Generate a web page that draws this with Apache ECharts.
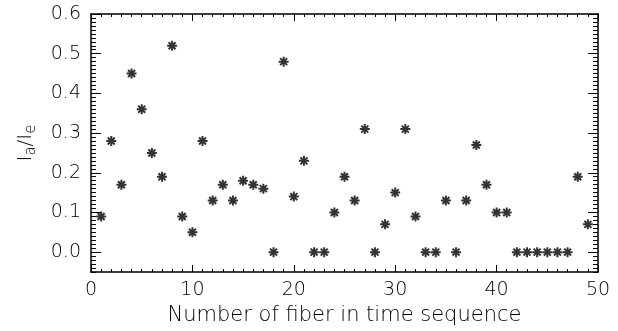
<!DOCTYPE html>
<html>
<head>
<meta charset="utf-8">
<script src="https://cdn.jsdelivr.net/npm/echarts@6/dist/echarts.min.js"></script>
<style>html,body{margin:0;padding:0;background:#fff}#c{width:618px;height:331px}</style>
</head>
<body>
<div id="c"></div>
<script>
var fiberNumbers = [1,2,3,4,5,6,7,8,9,10,11,12,13,14,15,16,17,18,19,20,21,22,23,24,25,26,27,28,29,30,31,32,33,34,35,36,37,38,39,40,41,42,43,44,45,46,47,48,49];
var ratioValues = [0.09,0.28,0.17,0.45,0.36,0.25,0.19,0.52,0.09,0.05,0.28,0.13,0.17,0.13,0.18,0.17,0.16,0.00,0.48,0.14,0.23,0.00,0.00,0.10,0.19,0.13,0.31,0.00,0.07,0.15,0.31,0.09,0.00,0.00,0.13,0.00,0.13,0.27,0.17,0.10,0.10,0.00,0.00,0.00,0.00,0.00,0.00,0.19,0.07];
var yTickLabels = [0.0,0.1,0.2,0.3,0.4,0.5,0.6];
var xTickLabels = [0,10,20,30,40,50];

var yMinorTicks = [];
for (var k = -5; k <= 60; k++) yMinorTicks.push(k / 100);

var FONT = 'DejaVu Sans';
var FW = 200;
var points = fiberNumbers.map(function (n, i) { return [n, ratioValues[i]]; });

var asterisk = 'path://M5,0L5,10M0,5L10,5M1.5,1.5L8.5,8.5M8.5,1.5L1.5,8.5';

function yAxisMajor(pos) {
  return {
    type: 'value', position: pos, min: -0.05, max: 0.6,
    axisLine: {show: true, onZero: false, lineStyle: {color: '#000', width: 1.5}},
    axisTick: {show: true, inside: true, length: 10, customValues: yTickLabels, lineStyle: {color: '#000', width: 1}},
    axisLabel: pos === 'left' ? {show: true, customValues: yTickLabels, formatter: function (v) { return v.toFixed(1); }, fontFamily: FONT, fontWeight: FW, fontSize: 19, color: '#000', margin: 10} : {show: false},
    splitLine: {show: false}
  };
}
function yAxisMinor(pos) {
  return {
    type: 'value', position: pos, min: -0.05, max: 0.6,
    axisLine: {show: false, onZero: false},
    axisTick: {show: true, inside: true, length: 5, customValues: yMinorTicks, lineStyle: {color: '#000', width: 1}},
    axisLabel: {show: false},
    splitLine: {show: false}
  };
}

var yMain = yAxisMajor('left');
yMain.name = 'I{sub|a}/I{sub|e}';
yMain.nameLocation = 'middle';
yMain.nameGap = 52;
yMain.nameTextStyle = {
  fontFamily: FONT, fontWeight: FW, fontSize: 20, color: '#000',
  rich: {sub: {fontFamily: FONT, fontWeight: FW, fontSize: 15, color: '#000', padding: [12, 0, 0, 0]}}
};

var xCommon = function (pos) {
  return {
    type: 'value', position: pos, min: 0, max: 50, interval: 10,
    axisLine: {show: true, onZero: false, lineStyle: {color: '#000', width: 1.5}},
    axisTick: {show: true, inside: true, length: 7, lineStyle: {color: '#000', width: 1}},
    minorTick: {show: true, splitNumber: 10, length: 3, lineStyle: {color: '#000', width: 1}},
    splitLine: {show: false}
  };
};
var xBottom = xCommon('bottom');
xBottom.name = 'Number of fiber in time sequence';
xBottom.nameLocation = 'middle';
xBottom.nameGap = 31;
xBottom.nameTextStyle = {fontFamily: FONT, fontWeight: FW, fontSize: 21, color: '#000'};
xBottom.axisLabel = {customValues: xTickLabels, fontFamily: FONT, fontWeight: FW, fontSize: 19, color: '#000', margin: 9};
var xTop = xCommon('top');
xTop.axisLabel = {show: false};

var option = {
  animation: false,
  backgroundColor: '#fff',
  grid: {left: 91, right: 20, top: 14, bottom: 59},
  xAxis: [xBottom, xTop],
  yAxis: [yMain, yAxisMinor('left'), yAxisMajor('right'), yAxisMinor('right')],
  series: [{
    type: 'scatter',
    xAxisIndex: 0, yAxisIndex: 0,
    data: points,
    symbol: asterisk,
    symbolSize: 10,
    itemStyle: {color: '#000', borderColor: '#000', borderWidth: 2}
  }]
};

var chart = echarts.init(document.getElementById('c'), null, {renderer: 'canvas'});
chart.setOption(option);
</script>
</body>
</html>
